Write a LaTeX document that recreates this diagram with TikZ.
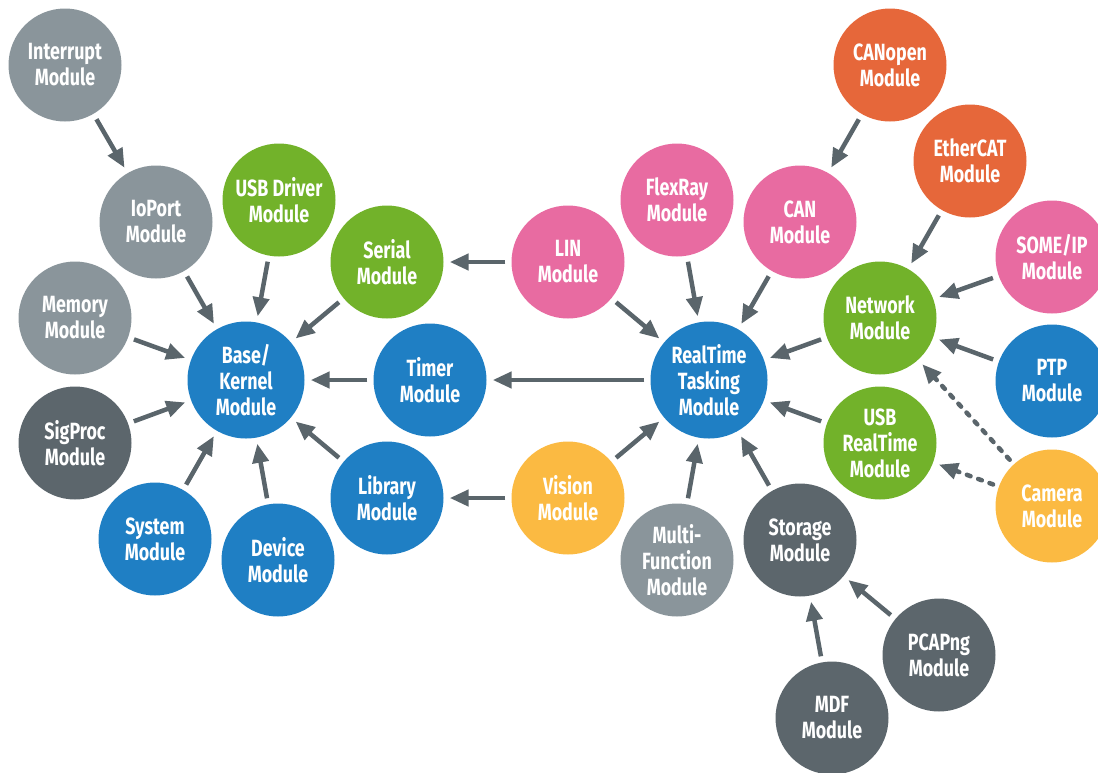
\documentclass[tikz,border=0pt]{standalone}
\usepackage{fontspec}
\newfontfamily\modfont[FakeStretch=0.76]{Fira Sans}
\usetikzlibrary{arrows.meta}
\definecolor{cblue}{HTML}{1F7FC4}
\definecolor{cgreen}{HTML}{72B22A}
\definecolor{cpink}{HTML}{E86BA1}
\definecolor{corange}{HTML}{E6673A}
\definecolor{cyellow}{HTML}{FBBA42}
\definecolor{cgray}{HTML}{8A959B}
\definecolor{cdark}{HTML}{5C666C}
\definecolor{carrow}{HTML}{5A656B}
\tikzset{
  mod/.style={circle, minimum size=113pt, inner sep=0pt, text=white, align=center,
    font=\modfont\bfseries\fontsize{23.5}{26}\selectfont},
  big/.style={minimum size=117pt},
  fblue/.style={mod, fill=cblue},
  fgreen/.style={mod, fill=cgreen},
  fpink/.style={mod, fill=cpink},
  forange/.style={mod, fill=corange},
  fyellow/.style={mod, fill=cyellow},
  fgray/.style={mod, fill=cgray},
  fdark/.style={mod, fill=cdark},
  conn/.style={draw=carrow, line width=4.5pt, -{Triangle[length=19pt,width=16pt]},
    shorten <=6pt, shorten >=6pt},
  dconn/.style={conn, line cap=round, dash pattern=on 4pt off 8pt}
}
\begin{document}
\begin{tikzpicture}[x=1pt,y=-1pt]
\path[use as bounding box, clip] (0,0) rectangle (1098,772);
% left cluster
\node[fgray]   (interrupt) at (65,65)   {Interrupt\\Module};
\node[fgray]   (ioport)    at (156,222) {IoPort\\Module};
\node[fgreen]  (usbdrv)    at (279,200) {USB Driver\\Module};
\node[fgray]   (memory)    at (75,318)  {Memory\\Module};
\node[fgreen]  (serial)    at (387,262) {Serial\\Module};
\node[fblue,big] (base)    at (246,380) {Base/\\Kernel\\Module};
\node[fblue]   (timer)     at (430,380) {Timer\\Module};
\node[fdark]   (sigproc)   at (75,443)  {SigProc\\Module};
\node[fblue]   (system)    at (155,539) {System\\Module};
\node[fblue]   (device)    at (278,560) {Device\\Module};
\node[fblue]   (library)   at (387,498) {Library\\Module};
% right cluster
\node[fpink]   (lin)       at (568,262) {LIN\\Module};
\node[fpink]   (flexray)   at (677,200) {FlexRay\\Module};
\node[fpink]   (can)       at (800,222) {CAN\\Module};
\node[forange] (canopen)   at (890,65)  {CANopen\\Module};
\node[forange] (ethercat)  at (970,161) {EtherCAT\\Module};
\node[fpink]   (someip)    at (1052,257) {SOME/IP\\Module};
\node[fgreen]  (network)   at (880,318) {Network\\Module};
\node[fblue]   (ptp)       at (1052,381) {PTP\\Module};
\node[fblue,big] (rt)      at (709,380) {RealTime\\Tasking\\Module};
\node[fgreen]  (usbrt)     at (880,443) {USB\\RealTime\\Module};
\node[fyellow] (camera)    at (1052,506) {Camera\\Module};
\node[fyellow] (vision)    at (568,498) {Vision\\Module};
\node[fgray]   (multi)     at (677,560) {Multi-\\Function\\Module};
\node[fdark]   (storage)   at (800,540) {Storage\\Module};
\node[fdark]   (pcapng)    at (939,655) {PCAPng\\Module};
\node[fdark]   (mdf)       at (832,718) {MDF\\Module};
% connectors
\draw[conn] (interrupt) -- (ioport);
\draw[conn] (ioport) -- (base);
\draw[conn] (usbdrv) -- (base);
\draw[conn] (serial) -- (base);
\draw[conn] (memory) -- (base);
\draw[conn] (timer) -- (base);
\draw[conn] (sigproc) -- (base);
\draw[conn] (system) -- (base);
\draw[conn] (device) -- (base);
\draw[conn] (library) -- (base);
\draw[conn] (lin) -- (serial);
\draw[conn] (rt) -- (timer);
\draw[conn] (vision) -- (library);
\draw[conn] (lin) -- (rt);
\draw[conn] (flexray) -- (rt);
\draw[conn] (can) -- (rt);
\draw[conn] (canopen) -- (can);
\draw[conn] (ethercat) -- (network);
\draw[conn] (someip) -- (network);
\draw[conn] (ptp) -- (network);
\draw[conn] (network) -- (rt);
\draw[conn] (usbrt) -- (rt);
\draw[dconn] (camera) -- (network);
\draw[dconn] (camera) -- (usbrt);
\draw[conn] (vision) -- (rt);
\draw[conn] (multi) -- (rt);
\draw[conn] (storage) -- (rt);
\draw[conn] (mdf) -- (storage);
\draw[conn] (pcapng) -- (storage);
\end{tikzpicture}
\end{document}
